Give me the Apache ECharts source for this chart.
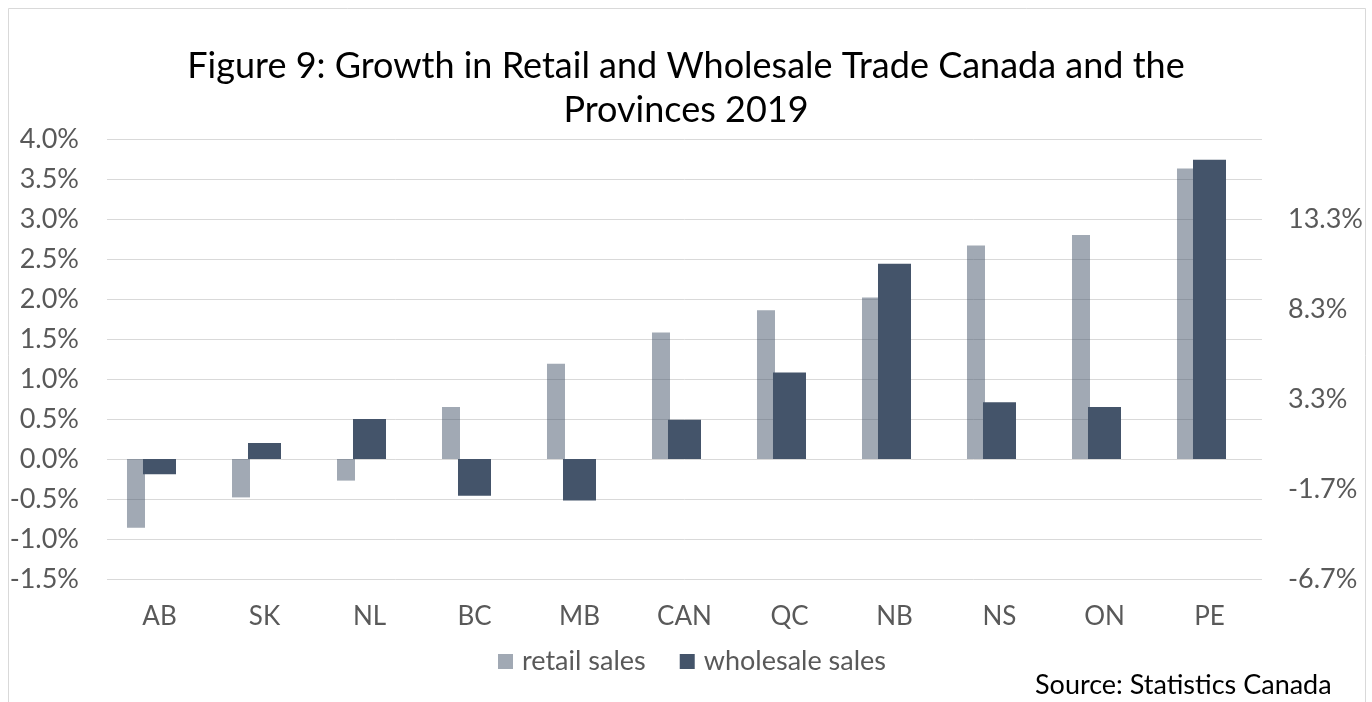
<!DOCTYPE html>
<html>
<head>
<meta charset="utf-8">
<script src="https://cdn.jsdelivr.net/npm/echarts@6/dist/echarts.min.js"></script>
<style>
  html, body { margin: 0; padding: 0; background: #ffffff; }
  #chart { width: 1372px; height: 702px; }
</style>
</head>
<body>
<div id="chart"></div>
<script>
// Provinces ordered by retail growth, 2019 (percent)
const provinces = ['AB', 'SK', 'NL', 'BC', 'MB', 'CAN', 'QC', 'NB', 'NS', 'ON', 'PE'];
const retailSales = [-0.86, -0.48, -0.27, 0.65, 1.19, 1.58, 1.86, 2.02, 2.67, 2.80, 3.63];
const wholesaleSales = [-0.19, 0.20, 0.50, -0.46, -0.52, 0.49, 1.08, 2.44, 0.71, 0.65, 3.74];
// Empty placeholder column so the retail bar sits left of the category centre
const spacer = provinces.map(() => null);

const FONT = 'Lato, "Open Sans", sans-serif';
const GREY = '#595959';

const chart = echarts.init(document.getElementById('chart'), null, { renderer: 'canvas' });

chart.setOption({
  animation: false,
  backgroundColor: '#ffffff',
  textStyle: { fontFamily: FONT },
  graphic: [
    {
      type: 'rect',
      shape: { x: 8.5, y: 8.5, width: 1357, height: 720 },
      style: { fill: 'none', stroke: '#d9d9d9', lineWidth: 1 },
      silent: true
    },
    {
      type: 'text',
      left: 1035,
      top: 672,
      style: {
        text: 'Source: Statistics Canada',
        font: '27px ' + FONT,
        fill: '#000000'
      }
    }
  ],
  title: {
    text: 'Figure 9: Growth in Retail and Wholesale Trade Canada and the\nProvinces 2019',
    left: 'center',
    top: 39,
    textStyle: {
      fontFamily: FONT,
      fontSize: 36,
      fontWeight: 'normal',
      color: '#000000',
      lineHeight: 44
    }
  },
  legend: {
    data: ['retail sales', 'wholesale sales'],
    top: 648,
    left: 498,
    padding: 0,
    itemWidth: 15,
    itemHeight: 15,
    itemGap: 34,
    icon: 'rect',
    textStyle: { fontFamily: FONT, fontSize: 27, color: GREY, padding: [0, 0, 0, 4] }
  },
  grid: { left: 107, right: 110, top: 139, bottom: 123 },
  xAxis: {
    type: 'category',
    data: provinces,
    axisLine: { show: false },
    axisTick: { show: false },
    axisLabel: { color: GREY, fontSize: 26, fontFamily: FONT, margin: 25 }
  },
  yAxis: [
    {
      type: 'value',
      min: -1.5,
      max: 4.0,
      interval: 0.5,
      axisLine: { show: false },
      axisTick: { show: false },
      splitLine: { lineStyle: { color: '#d9d9d9', width: 1 } },
      axisLabel: {
        color: GREY, fontSize: 27, fontFamily: FONT, margin: 28,
        formatter: v => v.toFixed(1) + '%'
      }
    },
    {
      type: 'value',
      position: 'right',
      min: -6.7,
      max: 17.74,
      interval: 5,
      axisLine: { show: false },
      axisTick: { show: false },
      splitLine: { show: false },
      axisLabel: {
        color: GREY, fontSize: 27, fontFamily: FONT, margin: 26,
        showMaxLabel: false,
        formatter: v => v.toFixed(1) + '%'
      }
    }
  ],
  series: [
    {
      name: 'retail sales',
      type: 'bar',
      data: retailSales,
      barWidth: 18,
      barGap: '-11.11%',
      itemStyle: { color: 'rgba(68, 84, 106, 0.5)' }
    },
    {
      name: 'wholesale sales',
      type: 'bar',
      data: wholesaleSales,
      barWidth: 33,
      barGap: '-11.11%',
      itemStyle: { color: '#44546A' }
    },
    {
      name: 'spacer',
      type: 'bar',
      data: spacer,
      barWidth: 19.67,
      barGap: '-11.11%',
      silent: true,
      itemStyle: { color: 'rgba(0,0,0,0)' }
    }
  ]
});
</script>
</body>
</html>
